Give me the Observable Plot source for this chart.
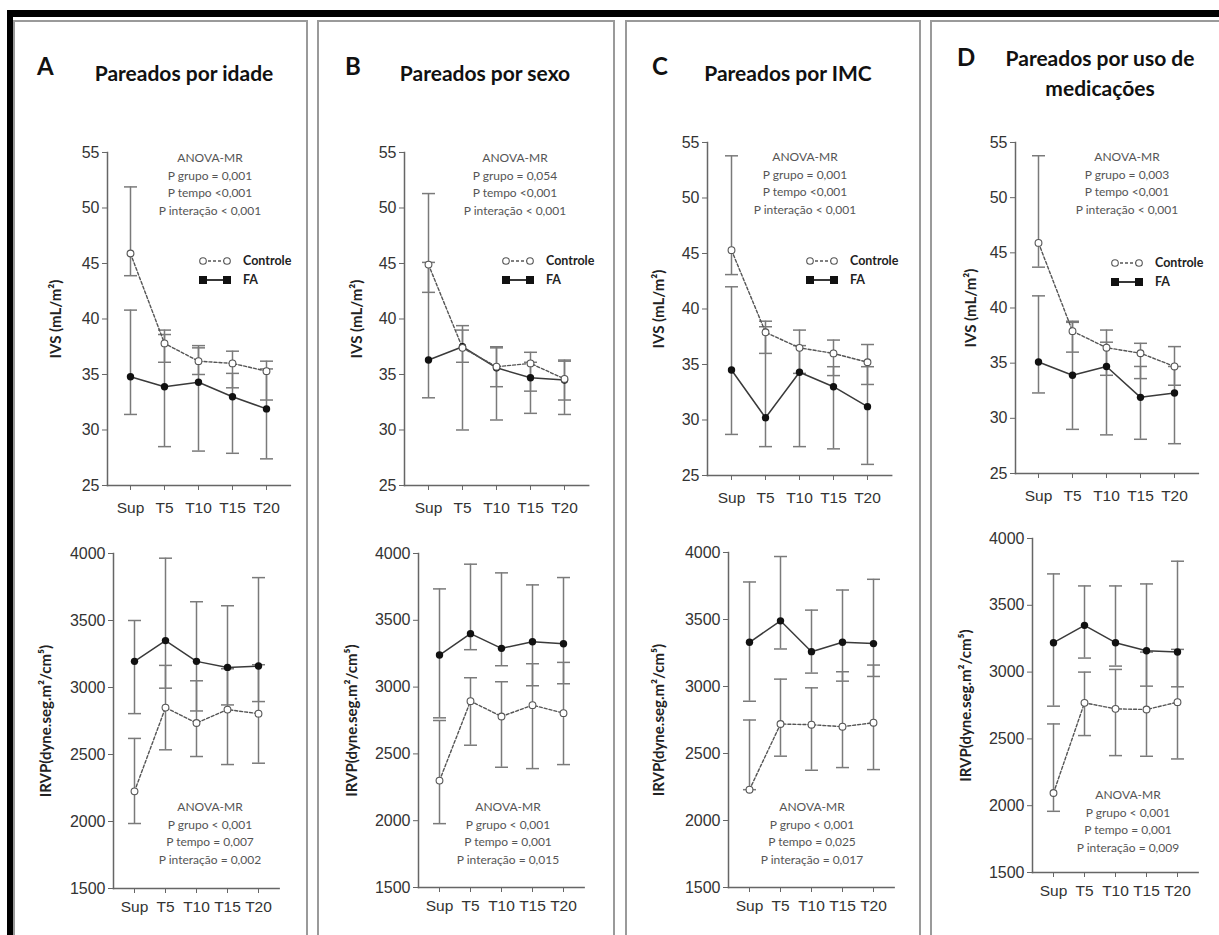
<!DOCTYPE html>
<html><head><meta charset="utf-8">
<script src="https://cdn.jsdelivr.net/npm/d3@7"></script>
<script src="https://cdn.jsdelivr.net/npm/@observablehq/plot@0.6"></script>
<style>
html,body{margin:0;padding:0;background:#fff}
body{width:1219px;height:935px;overflow:hidden;position:relative;font-family:Lato,"Open Sans",sans-serif}
.abs{position:absolute}
.panel{position:absolute;border:2px solid #9a9a9a;border-bottom:none;box-sizing:border-box}
.letter{position:absolute;font:700 24px Lato,sans-serif;color:#111;line-height:24px}
.title{position:absolute;width:300px;text-align:center;font:700 21px Lato,sans-serif;color:#111;line-height:30px}
.anova{position:absolute;width:160px;text-align:center;font:400 12px Lato,sans-serif;color:#555;line-height:17.7px}
.legend{position:absolute;font:700 12.5px Lato,sans-serif;color:#222}
.plot{position:absolute}
.plot svg{overflow:visible}
.plot svg text{font-family:"Liberation Sans",Arial,sans-serif;fill:#333}
.plot svg g[aria-label="x-axis tick label"] text{font-size:15.5px}
.plot svg g[aria-label="y-axis tick label"] text{font-size:16px}
.plot svg g[aria-label="y-axis label"] text{font-family:Lato,sans-serif;font-weight:700;font-size:15px;fill:#222}
</style></head><body>
<script>
// ---------- data ----------
const times = ["Sup","T5","T10","T15","T20"];
const ivsTicks = [25,30,35,40,45,50,55];
const irvpTicks = [1500,2000,2500,3000,3500,4000];

// Panel A - Pareados por idade
const A_ivs_ctrl = [45.9, 37.8, 36.2, 36.0, 35.3];
const A_ivs_ctrl_lo = [43.9, 36.1, 35.0, 33.8, 32.7];
const A_ivs_ctrl_hi = [51.9, 39.0, 37.4, 37.1, 36.2];
const A_ivs_fa = [34.8, 33.9, 34.3, 33.0, 31.9];
const A_ivs_fa_lo = [31.4, 28.5, 28.1, 27.9, 27.4];
const A_ivs_fa_hi = [40.8, 38.6, 37.6, 35.1, 35.5];
const A_irvp_ctrl = [2225, 2850, 2735, 2835, 2805];
const A_irvp_ctrl_lo = [1985, 2535, 2485, 2425, 2435];
const A_irvp_ctrl_hi = [2620, 3165, 3050, 3140, 3170];
const A_irvp_fa = [3195, 3350, 3195, 3150, 3160];
const A_irvp_fa_lo = [2805, 2995, 2825, 2870, 2895];
const A_irvp_fa_hi = [3500, 3965, 3640, 3610, 3820];

// Panel B - Pareados por sexo
const B_ivs_ctrl = [44.9, 37.4, 35.7, 36.0, 34.6];
const B_ivs_ctrl_lo = [42.4, 36.1, 33.9, 33.5, 32.7];
const B_ivs_ctrl_hi = [51.3, 39.0, 37.4, 37.0, 36.3];
const B_ivs_fa = [36.3, 37.5, 35.6, 34.7, 34.5];
const B_ivs_fa_lo = [32.9, 30.0, 30.9, 31.5, 31.4];
const B_ivs_fa_hi = [45.1, 39.4, 37.5, 36.1, 36.2];
const B_irvp_ctrl = [2300, 2895, 2780, 2865, 2805];
const B_irvp_ctrl_lo = [1978, 2565, 2400, 2390, 2420];
const B_irvp_ctrl_hi = [2750, 3070, 3040, 3175, 3185];
const B_irvp_fa = [3240, 3400, 3290, 3340, 3325];
const B_irvp_fa_lo = [2770, 3280, 3160, 3010, 3025];
const B_irvp_fa_hi = [3735, 3920, 3855, 3765, 3820];

// Panel C - Pareados por IMC
const C_ivs_ctrl = [45.3, 37.9, 36.5, 36.0, 35.2];
const C_ivs_ctrl_lo = [43.1, 36.0, 34.2, 34.0, 33.2];
const C_ivs_ctrl_hi = [53.8, 38.9, 38.1, 37.2, 36.8];
const C_ivs_fa = [34.5, 30.2, 34.3, 33.0, 31.2];
const C_ivs_fa_lo = [28.7, 27.6, 27.6, 27.4, 26.0];
const C_ivs_fa_hi = [42.0, 38.4, 36.7, 34.8, 34.8];
const C_irvp_ctrl = [2230, 2720, 2715, 2700, 2730];
const C_irvp_ctrl_lo = [2230, 2480, 2375, 2395, 2380];
const C_irvp_ctrl_hi = [2750, 3055, 2990, 3110, 3160];
const C_irvp_fa = [3330, 3490, 3260, 3330, 3320];
const C_irvp_fa_lo = [2890, 3280, 3100, 3040, 3075];
const C_irvp_fa_hi = [3780, 3970, 3570, 3720, 3800];

// Panel D - Pareados por uso de medicações
const D_ivs_ctrl = [45.9, 37.9, 36.4, 35.9, 34.7];
const D_ivs_ctrl_lo = [43.7, 36.0, 33.9, 33.6, 33.0];
const D_ivs_ctrl_hi = [53.8, 38.8, 38.0, 36.8, 36.5];
const D_ivs_fa = [35.1, 33.9, 34.7, 31.9, 32.3];
const D_ivs_fa_lo = [32.3, 29.0, 28.5, 28.1, 27.7];
const D_ivs_fa_hi = [41.1, 38.7, 36.9, 34.7, 34.7];
const D_irvp_ctrl = [2095, 2770, 2725, 2720, 2775];
const D_irvp_ctrl_lo = [1958, 2525, 2375, 2370, 2350];
const D_irvp_ctrl_hi = [2612, 3000, 3020, 3150, 3170];
const D_irvp_fa = [3220, 3350, 3220, 3160, 3150];
const D_irvp_fa_lo = [2745, 3105, 3045, 2895, 2890];
const D_irvp_fa_hi = [3735, 3645, 3645, 3660, 3830];

const letters = ["A","B","C","D"];
const titles = [["Pareados por idade"],["Pareados por sexo"],["Pareados por IMC"],["Pareados por uso de","medicações"]];
const ivsStats = [
  ["ANOVA-MR","P grupo = 0,001","P tempo <0,001","P interação < 0,001"],
  ["ANOVA-MR","P grupo = 0,054","P tempo <0,001","P interação < 0,001"],
  ["ANOVA-MR","P grupo = 0,001","P tempo <0,001","P interação < 0,001"],
  ["ANOVA-MR","P grupo = 0,003","P tempo <0,001","P interação < 0,001"]];
const irvpStats = [
  ["ANOVA-MR","P grupo < 0,001","P tempo = 0,007","P interação = 0,002"],
  ["ANOVA-MR","P grupo < 0,001","P tempo = 0,001","P interação = 0,015"],
  ["ANOVA-MR","P grupo < 0,001","P tempo = 0,025","P interação = 0,017"],
  ["ANOVA-MR","P grupo < 0,001","P tempo = 0,001","P interação = 0,009"]];
const groupNames = ["Controle","FA"];
const ivsLabel = "IVS (mL/m²)";
const irvpLabel = "IRVP(dyne.seg.m²/cm⁵)";

// ---------- layout ----------
const panelBoxes = [[13,308],[317,615],[625,921],[930,1230]];
const letterPos = [[37,54],[345,54],[652,54],[957,45]];
const titleCenter = [[184,58],[485,58],[788,58],[1100,43]];
const topGeom = [
  {left:107, top:152, bottom:485, step:34.5, off:57},
  {left:404, top:152, bottom:485, step:34.75, off:53},
  {left:707, top:142, bottom:475, step:34.75, off:54},
  {left:1015, top:142, bottom:473, step:34.5, off:50}];
const botGeom = [
  {left:113, top:553, bottom:888, step:31.25, off:73},
  {left:418, top:553, bottom:887, step:31.25, off:72},
  {left:728, top:552, bottom:887, step:31.25, off:75},
  {left:1032, top:538, bottom:872, step:31.25, off:72}];
const anovaTop = [[210,149],[515,149],[805,148],[1127,148]];
const anovaBot = [[210,798],[508,798],[812,798],[1128,786]];
const legendPos = [[199,252],[502,252],[806,252],[1111,254]];

const addDiv = (cls, style, html) => {
  const d = document.createElement("div");
  d.className = cls; Object.assign(d.style, style); if (html != null) d.innerHTML = html;
  document.body.appendChild(d); return d;
};
// black outer border
addDiv("abs", {left:"7px", top:"10px", width:"1212px", height:"7px", background:"#000"});
addDiv("abs", {left:"7px", top:"10px", width:"6px", height:"925px", background:"#000"});

const capSymbol = {draw(ctx, size){ const w = Math.sqrt(size/Math.PI); ctx.moveTo(-w,0); ctx.lineTo(w,0); }};

function rows(g, mean, lo, hi){ return times.map((t,i)=>({t, g, v:mean[i], lo:lo[i], hi:hi[i]})); }

function subplot(geo, domain, ticks, label, ctrl, fa, xPad){
  const mL = 90, mR = 6, mT = 10, mB = 40;
  const width = mL + geo.step*5.3 + mR;
  const height = mT + (geo.bottom - geo.top) + mB;
  const both = ctrl.concat(fa);
  const p = Plot.plot({
    width, height, marginLeft:mL, marginRight:mR, marginTop:mT, marginBottom:mB,
    style:{fontFamily:"'Liberation Sans', Arial, sans-serif", fontSize:"16px", color:"#333", background:"transparent"},
    x:{type:"point", domain:times, padding:0.65},
    y:{domain, nice:false},
    marks:[
      Plot.frame({anchor:"left", stroke:"#666", strokeWidth:1.5}),
      Plot.frame({anchor:"bottom", stroke:"#666", strokeWidth:1.5}),
      Plot.axisY({ticks, tickSize:5, tickPadding:3, tickFormat:d => String(d), stroke:"#666", label, labelAnchor:"center", labelOffset:geo.off, labelArrow:"none"}),
      Plot.axisX({tickSize:5, tickPadding:xPad, stroke:"#666", label:null}),
      Plot.ruleX(both, {x:"t", y1:"lo", y2:"hi", stroke:"#7a7a7a", strokeWidth:1.5}),
      Plot.dot(both, {x:"t", y:"lo", symbol:capSymbol, r:6.5, stroke:"#7a7a7a", strokeWidth:1.5, fill:"none"}),
      Plot.dot(both, {x:"t", y:"hi", symbol:capSymbol, r:6.5, stroke:"#7a7a7a", strokeWidth:1.5, fill:"none"}),
      Plot.line(fa, {x:"t", y:"v", stroke:"#3a3a3a", strokeWidth:1.5}),
      Plot.line(ctrl, {x:"t", y:"v", stroke:"#555", strokeWidth:1.4, strokeDasharray:"3,2"}),
      Plot.dot(fa, {x:"t", y:"v", r:3.7, fill:"#111", stroke:"none"}),
      Plot.dot(ctrl, {x:"t", y:"v", r:3.4, fill:"#fff", stroke:"#555", strokeWidth:1.1})
    ]
  });
  const wrap = addDiv("plot", {left:(geo.left - mL)+"px", top:(geo.top - mT)+"px"});
  wrap.appendChild(p);
}

const data = {
  A:{ivs:[A_ivs_ctrl,A_ivs_ctrl_lo,A_ivs_ctrl_hi,A_ivs_fa,A_ivs_fa_lo,A_ivs_fa_hi], irvp:[A_irvp_ctrl,A_irvp_ctrl_lo,A_irvp_ctrl_hi,A_irvp_fa,A_irvp_fa_lo,A_irvp_fa_hi]},
  B:{ivs:[B_ivs_ctrl,B_ivs_ctrl_lo,B_ivs_ctrl_hi,B_ivs_fa,B_ivs_fa_lo,B_ivs_fa_hi], irvp:[B_irvp_ctrl,B_irvp_ctrl_lo,B_irvp_ctrl_hi,B_irvp_fa,B_irvp_fa_lo,B_irvp_fa_hi]},
  C:{ivs:[C_ivs_ctrl,C_ivs_ctrl_lo,C_ivs_ctrl_hi,C_ivs_fa,C_ivs_fa_lo,C_ivs_fa_hi], irvp:[C_irvp_ctrl,C_irvp_ctrl_lo,C_irvp_ctrl_hi,C_irvp_fa,C_irvp_fa_lo,C_irvp_fa_hi]},
  D:{ivs:[D_ivs_ctrl,D_ivs_ctrl_lo,D_ivs_ctrl_hi,D_ivs_fa,D_ivs_fa_lo,D_ivs_fa_hi], irvp:[D_irvp_ctrl,D_irvp_ctrl_lo,D_irvp_ctrl_hi,D_irvp_fa,D_irvp_fa_lo,D_irvp_fa_hi]}
};

const legendSvg = `<svg width="75" height="34" style="position:absolute;left:0;top:0;overflow:visible">
 <line x1="4" y1="9" x2="26" y2="9" stroke="#555" stroke-width="1.3" stroke-dasharray="3,2"/>
 <circle cx="4" cy="9" r="3.3" fill="#fff" stroke="#555" stroke-width="1.1"/>
 <circle cx="28" cy="9" r="3.3" fill="#fff" stroke="#555" stroke-width="1.1"/>
 <line x1="4" y1="28" x2="28" y2="28" stroke="#222" stroke-width="1.8"/>
 <rect x="0" y="24" width="8" height="8" fill="#111"/>
 <rect x="24" y="24" width="8" height="8" fill="#111"/>
</svg>
<div style="position:absolute;left:44px;top:1px;white-space:nowrap">${groupNames[0]}</div>
<div style="position:absolute;left:44px;top:20px;white-space:nowrap">${groupNames[1]}</div>`;

letters.forEach((L, k) => {
  const [x0, x1] = panelBoxes[k];
  addDiv("panel", {left:x0+"px", top:"20px", width:(x1-x0)+"px", height:"930px"});
  addDiv("letter", {left:letterPos[k][0]+"px", top:letterPos[k][1]+"px"}, L);
  addDiv("title", {left:(titleCenter[k][0]-150)+"px", top:titleCenter[k][1]+"px"}, titles[k].join("<br>"));
  const d = data[L];
  subplot(topGeom[k], [25,55], ivsTicks, ivsLabel,
    rows(groupNames[0], d.ivs[0], d.ivs[1], d.ivs[2]), rows(groupNames[1], d.ivs[3], d.ivs[4], d.ivs[5]), 11);
  subplot(botGeom[k], [1500,4000], irvpTicks, irvpLabel,
    rows(groupNames[0], d.irvp[0], d.irvp[1], d.irvp[2]), rows(groupNames[1], d.irvp[3], d.irvp[4], d.irvp[5]), 7);
  addDiv("anova", {left:(anovaTop[k][0]-80)+"px", top:anovaTop[k][1]+"px"}, ivsStats[k].join("<br>"));
  addDiv("anova", {left:(anovaBot[k][0]-80)+"px", top:anovaBot[k][1]+"px"}, irvpStats[k].join("<br>"));
  addDiv("legend", {left:legendPos[k][0]+"px", top:legendPos[k][1]+"px", width:"100px", height:"36px"}, legendSvg);
});
</script>
</body></html>
